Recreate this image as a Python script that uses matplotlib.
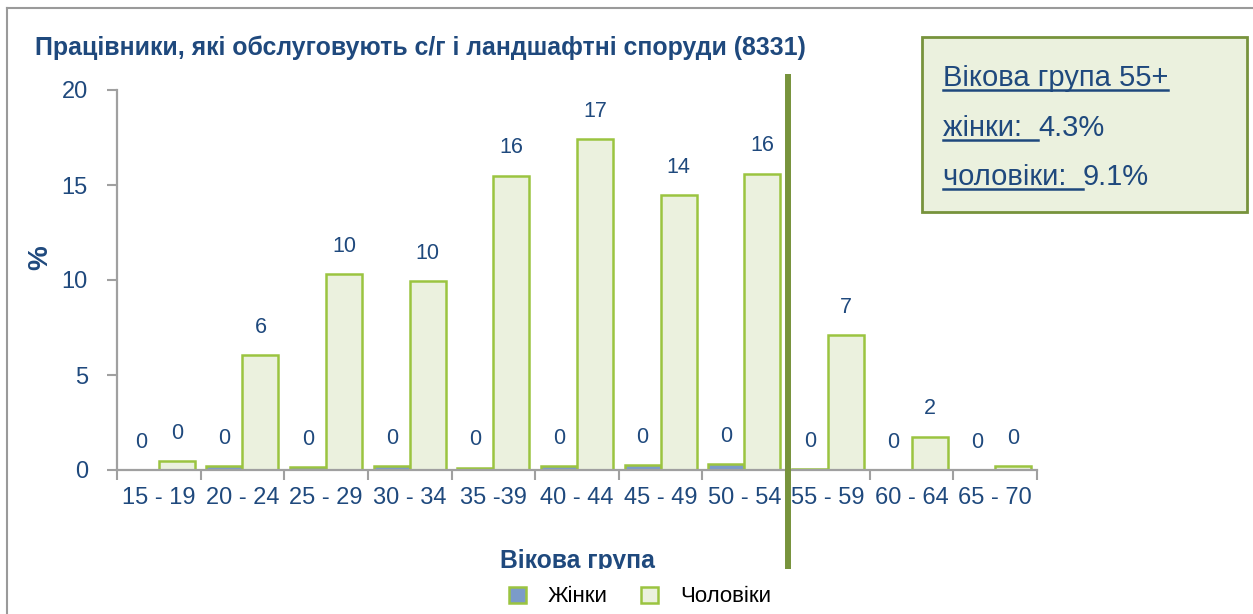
import matplotlib
matplotlib.use("Agg")
import matplotlib.pyplot as plt
import matplotlib.lines as mlines
import matplotlib.patches as mpatches
import numpy as np

plt.rcParams['font.family'] = ['Liberation Sans', 'DejaVu Sans']

# Data
age_groups = ["15 - 19", "20 - 24", "25 - 29", "30 - 34", "35 -39", "40 - 44",
              "45 - 49", "50 - 54", "55 - 59", "60 - 64", "65 - 70"]
women = [0.0, 0.2, 0.15, 0.2, 0.12, 0.2, 0.25, 0.3, 0.05, 0.0, 0.0]
men = [0.45, 6.05, 10.3, 9.95, 15.5, 17.4, 14.45, 15.6, 7.1, 1.75, 0.2]
women_share_55 = 4.3
men_share_55 = 9.1

W, H = 1253, 614
DARK = "#1F497D"
GREEN_EDGE = "#9BC440"
OLIVE = "#77933C"

fig = plt.figure(figsize=(W / 100, H / 100), dpi=100)
ax = fig.add_axes([117 / W, 1 - 470 / H, 920 / W, 380 / H])

x = np.arange(len(age_groups))
bw = 0.43
ax.bar(x - bw / 2, women, bw, color="#7B9BC9", edgecolor=GREEN_EDGE, linewidth=1.8, label="Жінки")
ax.bar(x + bw / 2, men, bw, color="#EBF1DE", edgecolor=GREEN_EDGE, linewidth=1.8, label="Чоловіки")

# value labels
for xi, v in zip(x - bw / 2, women):
    ax.annotate(f"{v:.0f}", (xi, v), xytext=(0, 20), textcoords="offset points",
                ha="center", va="center", fontsize=15.5, color=DARK)
for xi, v in zip(x + bw / 2, men):
    ax.annotate(f"{v:.0f}", (xi, v), xytext=(0, 20), textcoords="offset points",
                ha="center", va="center", fontsize=15.5, color=DARK)

ax.set_xlim(-0.5, len(age_groups) - 0.5)
ax.set_ylim(0, 20)
ax.set_yticks([0, 5, 10, 15, 20])
ax.set_xticks(np.arange(len(age_groups) + 1) - 0.5)
ax.set_xticklabels([])
ax.set_xticks(x, minor=True)
ax.set_xticklabels(age_groups, minor=True)
ax.tick_params(axis="x", which="minor", length=0, pad=12, labelsize=17, labelcolor=DARK)
ax.tick_params(axis="x", which="major", length=7, width=1.5, color="#A0A0A0")
ax.tick_params(axis="y", length=7, width=1.5, color="#A0A0A0", pad=14, labelsize=17, labelcolor=DARK)

for s in ["top", "right"]:
    ax.spines[s].set_visible(False)
for s in ["left", "bottom"]:
    ax.spines[s].set_color("#A0A0A0")
    ax.spines[s].set_linewidth(1.6)

ax.set_ylabel("%", fontsize=20, fontweight="bold", color=DARK)
ax.yaxis.set_label_coords((40 - 117) / 920, (470 - 258) / 380)
ax.yaxis.label.set_va("center")
ax.set_xlabel("Вікова група", fontsize=17.8, fontweight="bold", color=DARK)
ax.xaxis.set_label_coords((577 - 117) / 920, (470 - 561) / 380)
ax.xaxis.label.set_va("center")

# divider at 55+
ax.plot([7.52, 7.52], [1.042, -0.263], color=OLIVE, linewidth=4.3,
        transform=ax.get_xaxis_transform(), clip_on=False, solid_capstyle="butt", zorder=6)

# title
fig.text(35 / W, 1 - 48 / H, "Працівники, які обслуговують с/г і ландшафтні споруди (8331)",
         fontsize=17.9, fontweight="bold", color=DARK, ha="left", va="center")

# frame lines of the slide
fig.add_artist(mlines.Line2D([7 / W, 7 / W], [0, 1 - 8 / H], color="#9A9A9A", linewidth=1.5))
fig.add_artist(mlines.Line2D([7 / W, 1], [1 - 8 / H, 1 - 8 / H], color="#9A9A9A", linewidth=1.5))

# white strip hiding the bottom of the axis title, legend sits on it
fig.add_artist(mpatches.Rectangle((480 / W, 0), 320 / W, (H - 569) / H, transform=fig.transFigure,
                                  facecolor="white", edgecolor="none", zorder=10))
leg = fig.legend(loc="center", bbox_to_anchor=(640 / W, 1 - 597 / H), ncol=2, frameon=False,
                 fontsize=16, handlelength=0.75, handleheight=0.75, columnspacing=1.5, handletextpad=1.0)
leg.set_zorder(11)

# 55+ info box
fig.add_artist(mpatches.Rectangle((922 / W, 1 - 212 / H), 325 / W, 175 / H, transform=fig.transFigure,
                                  facecolor="#EBF1DE", edgecolor=OLIVE, linewidth=2))
fs_box = 21
t1 = fig.text(943 / W, 1 - 78 / H, "Вікова група 55+", fontsize=fs_box, color=DARK, va="center")
t2 = fig.text(943 / W, 1 - 128 / H, "жінки:  ", fontsize=fs_box, color=DARK, va="center")
t3 = fig.text(943 / W, 1 - 177 / H, "чоловіки:  ", fontsize=fs_box, color=DARK, va="center")

fig.canvas.draw()
r = fig.canvas.get_renderer()
for t in [t1, t2, t3]:
    bb = t.get_window_extent(r)
    yl = bb.y0 + 2
    fig.add_artist(mlines.Line2D([bb.x0 / W, bb.x1 / W], [yl / H, yl / H], color=DARK, linewidth=1.8))
b2 = t2.get_window_extent(r)
b3 = t3.get_window_extent(r)
fig.text(b2.x1 / W, 1 - 128 / H, f"{women_share_55}%", fontsize=fs_box, color=DARK, va="center")
fig.text(b3.x1 / W, 1 - 177 / H, f"{men_share_55}%", fontsize=fs_box, color=DARK, va="center")

fig.savefig("out.png", dpi=100)
